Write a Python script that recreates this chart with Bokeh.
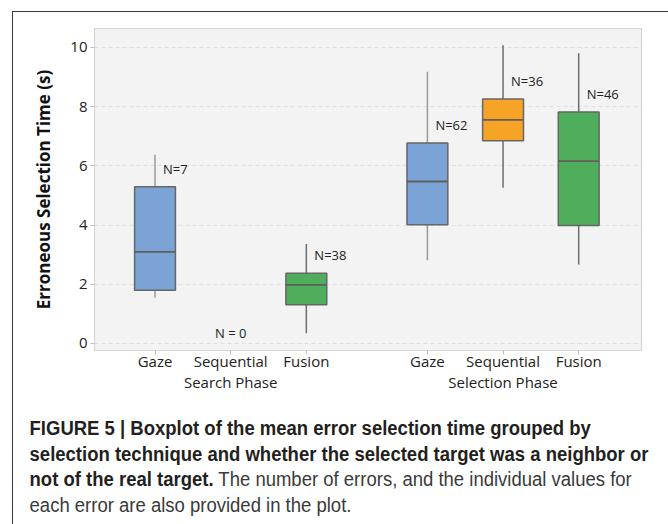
from bokeh.plotting import figure
from bokeh.models import ColumnDataSource, FixedTicker, Range1d, Div
from bokeh.layouts import column
from bokeh.core.properties import value
from bokeh.embed import file_html
from bokeh.resources import INLINE

# ---------------- data ----------------
techniques = ["Gaze", "Sequential", "Fusion", "Gaze", "Sequential", "Fusion"]
phases = ["Search Phase"] * 3 + ["Selection Phase"] * 3
counts = [7, 0, 38, 62, 36, 46]
whisker_low = [1.54, None, 0.34, 2.81, 5.26, 2.67]
q1 = [1.80, None, 1.31, 4.01, 6.85, 3.98]
median = [3.09, None, 1.98, 5.47, 7.55, 6.16]
q3 = [5.29, None, 2.37, 6.77, 8.26, 7.82]
whisker_high = [6.37, None, 3.36, 9.18, 10.07, 9.80]
y_ticks = [0, 2, 4, 6, 8, 10]
y_title = "Erroneous Selection Time (s)"

caption_bold = [
    "FIGURE 5 | Boxplot of the mean error selection time grouped by",
    "selection technique and whether the selected target was a neighbor or",
    "not of the real target.",
]
caption_normal = [
    "The number of errors, and the individual values for",
    "each error are also provided in the plot.",
]

# ---------------- styles ----------------
BLUE, ORANGE, GREEN = "#7BA3D6", "#F7A426", "#4FAE5B"
tech_colors = {"Gaze": BLUE, "Sequential": ORANGE, "Fusion": GREEN}
whisk_colors = {"Gaze": "#9a9a9a", "Sequential": "#6e6e6e", "Fusion": "#6e6e6e"}
FONT = "Open Sans"
BOX_W = 0.54
GROUP_GAP = 0.6

phase_order = list(dict.fromkeys(phases))
pos = [i + GROUP_GAP * phase_order.index(ph) for i, ph in enumerate(phases)]

idx = [i for i in range(len(counts)) if q1[i] is not None]
src = ColumnDataSource(dict(
    x=[pos[i] for i in idx],
    x0=[pos[i] - BOX_W / 2 for i in idx],
    x1=[pos[i] + BOX_W / 2 for i in idx],
    lo=[whisker_low[i] for i in idx],
    q1=[q1[i] for i in idx],
    med=[median[i] for i in idx],
    q3=[q3[i] for i in idx],
    hi=[whisker_high[i] for i in idx],
    color=[tech_colors[techniques[i]] for i in idx],
    wcolor=[whisk_colors[techniques[i]] for i in idx],
    label=["N=%d" % counts[i] for i in idx],
))
empty = [i for i in range(len(counts)) if q1[i] is None]
src0 = ColumnDataSource(dict(
    x=[pos[i] for i in empty],
    y=[0 for i in empty],
    label=["N = %d" % counts[i] for i in empty],
))

CW = 651          # content width
CH = 398          # chart height
KH = 113          # caption height

p = figure(width=CW, height=CH, output_backend="svg", toolbar_location=None,
           x_range=Range1d(-0.8, 6.43), y_range=Range1d(-0.24, 10.64),
           min_border_left=81, min_border_top=16, min_border_right=23,
           min_border_bottom=60)
p.background_fill_color = "#f3f3f3"
p.border_fill_color = "white"
p.outline_line_color = "#d6d6d6"
p.outline_line_width = 1.2

p.segment(x0="x", y0="lo", x1="x", y1="q1", source=src, line_color="wcolor", line_width=1.5)
p.segment(x0="x", y0="q3", x1="x", y1="hi", source=src, line_color="wcolor", line_width=1.5)
p.vbar(x="x", width=BOX_W, bottom="q1", top="q3", source=src, fill_color="color",
       line_color="#666666", line_width=1.5)
p.segment(x0="x0", y0="med", x1="x1", y1="med", source=src, line_color="#5f5f5f", line_width=1.8)
p.text(x="x", y="q3", text="label", source=src, x_offset=8, y_offset=-18,
       text_font=value(FONT), text_font_size="13px", text_color="#222222",
       text_baseline="middle", text_align="left")
p.text(x="x", y="y", text="label", source=src0, y_offset=-10,
       text_font=value(FONT), text_font_size="13px", text_color="#222222",
       text_baseline="middle", text_align="center")

p.xgrid.grid_line_color = None
p.ygrid.grid_line_color = "#e0e0e0"
p.ygrid.grid_line_dash = "4 3"

p.yaxis.ticker = FixedTicker(ticks=y_ticks)
p.yaxis.axis_label = y_title
p.yaxis.axis_label_text_font = FONT
p.yaxis.axis_label_text_font_style = "bold"
p.yaxis.axis_label_text_font_size = "17px"
p.yaxis.axis_label_text_color = "#111111"
p.yaxis.axis_label_standoff = 12

labels = {}
for i, t in enumerate(techniques):
    first = phases.index(phases[i])
    last = len(phases) - 1 - phases[::-1].index(phases[i])
    labels[pos[i]] = t + "\n" + phases[i] if i == (first + last) // 2 else t
p.xaxis.ticker = FixedTicker(ticks=pos)
p.xaxis.major_label_overrides = labels

for ax in (p.xaxis[0], p.yaxis[0]):
    ax.axis_line_color = "#d6d6d6"
    ax.major_tick_line_color = "#bdbdbd"
    ax.major_tick_out = 4
    ax.major_tick_in = 0
    ax.minor_tick_line_color = None
    ax.major_label_text_font = FONT
    ax.major_label_text_font_size = "15px"
    ax.major_label_text_color = "#222222"
p.yaxis.major_label_standoff = 3
p.xaxis.major_label_standoff = -4
p.xaxis.major_label_text_line_height = 1.05

# ---------------- caption ----------------
cap_html = (
    '<div style="padding:1px 0 0 12.5px; white-space:nowrap; '
    'font-family:\'Liberation Sans\', Arial, sans-serif; font-size:20px; '
    'line-height:25.5px; color:#231f20; transform:scaleX(0.925); '
    'transform-origin:0 0;">'
    + "<br>".join("<b>%s</b>" % t for t in caption_bold)
    + ' <span style="color:#3a3a3a">' + "<br>".join(caption_normal) + "</span>"
    + "</div>"
)
cap = Div(text=cap_html, width=CW, height=KH)

layout = column(p, cap, spacing=0, margin=(11, 0, 0, 12), styles={
    "border-left": "1.5px solid #3a3a3a",
    "border-top": "1.5px solid #3a3a3a",
    "border-right": "1.5px solid #3a3a3a",
})

open("out.html", "w").write(file_html(layout, INLINE))
